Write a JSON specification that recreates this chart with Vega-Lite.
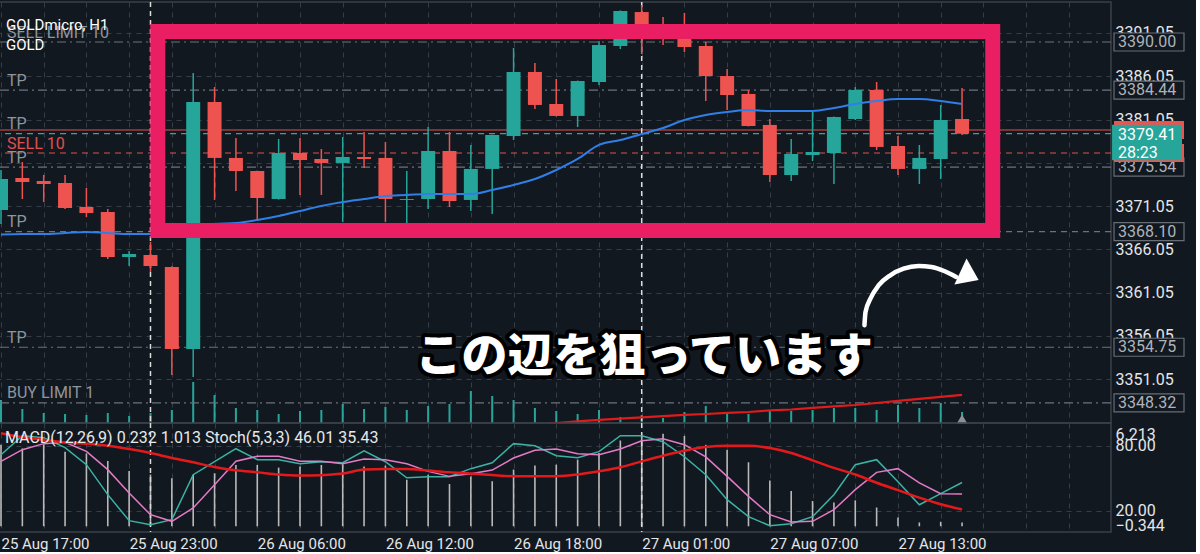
{
  "$schema": "https://vega.github.io/schema/vega-lite/v6.json",
  "background": "#121820",
  "padding": {"left": -7, "top": 0, "right": 0, "bottom": 0},
  "spacing": 0,
  "bounds": "flush",
  "config": {
    "font": "Roboto",
    "view": {"stroke": "#3a4048", "strokeWidth": 1.5},
    "axis": {"domain": false, "ticks": false, "labelFont": "Roboto", "labelColor": "#e4e6e8", "labelFontSize": 16, "gridColor": "#363d47", "gridDash": [5, 5], "gridWidth": 1, "labelOverlap": false, "labelFlush": false, "labelBound": false}
  },
  "datasets": {
    "bars": [
      {"i":0,"t":"25 Aug 17:00","o":3370.60,"h":3375.22,"l":3368.98,"c":3374.18,"v":2300,"ma":3367.77,"k":71.7,"d":65.6,"macd":4.90,"sig":5.599},
      {"i":1,"t":"25 Aug 18:00","o":3374.30,"h":3376.14,"l":3371.87,"c":3373.83,"v":1400,"ma":3367.83,"k":89.2,"d":76.3,"macd":4.68,"sig":5.361},
      {"i":2,"t":"25 Aug 19:00","o":3373.95,"h":3374.64,"l":3371.52,"c":3373.60,"v":1000,"ma":3367.83,"k":87.4,"d":81.9,"macd":4.92,"sig":5.200},
      {"i":3,"t":"25 Aug 20:00","o":3373.72,"h":3374.64,"l":3370.72,"c":3370.83,"v":900,"ma":3367.94,"k":78.2,"d":83.1,"macd":4.48,"sig":5.039},
      {"i":4,"t":"25 Aug 21:00","o":3370.95,"h":3373.14,"l":3369.79,"c":3370.25,"v":800,"ma":3368.06,"k":62.5,"d":74.8,"macd":4.38,"sig":4.961},
      {"i":5,"t":"25 Aug 22:00","o":3370.37,"h":3370.72,"l":3364.94,"c":3365.17,"v":1000,"ma":3367.94,"k":34.8,"d":57.9,"macd":3.93,"sig":4.842},
      {"i":6,"t":"25 Aug 23:00","o":3365.17,"h":3365.87,"l":3364.13,"c":3365.52,"v":700,"ma":3367.83,"k":10.8,"d":36.3,"macd":3.33,"sig":4.645},
      {"i":7,"t":"26 Aug 01:00","o":3365.40,"h":3366.91,"l":3363.44,"c":3364.13,"v":1000,"ma":3367.83,"k":7.1,"d":16.3,"macd":3.11,"sig":4.407},
      {"i":8,"t":"26 Aug 02:00","o":3364.02,"h":3364.10,"l":3351.55,"c":3354.55,"v":1300,"ma":3368.29,"k":11.7,"d":10.2,"macd":2.89,"sig":4.109},
      {"i":9,"t":"26 Aug 03:00","o":3354.55,"h":3386.42,"l":3351.32,"c":3383.07,"v":4100,"ma":3368.64,"k":53.2,"d":22.5,"macd":3.10,"sig":3.846},
      {"i":10,"t":"26 Aug 04:00","o":3383.07,"h":3384.80,"l":3371.76,"c":3376.61,"v":2800,"ma":3368.98,"k":65.2,"d":44.0,"macd":3.19,"sig":3.572},
      {"i":11,"t":"26 Aug 05:00","o":3376.61,"h":3378.92,"l":3372.80,"c":3375.10,"v":1500,"ma":3369.10,"k":77.2,"d":65.6,"macd":3.69,"sig":3.370},
      {"i":12,"t":"26 Aug 06:00","o":3375.10,"h":3375.15,"l":3369.56,"c":3371.99,"v":1300,"ma":3369.45,"k":67.1,"d":70.2,"macd":3.69,"sig":3.250},
      {"i":13,"t":"26 Aug 07:00","o":3371.87,"h":3378.80,"l":3371.80,"c":3377.18,"v":900,"ma":3369.91,"k":67.1,"d":70.2,"macd":3.53,"sig":3.113},
      {"i":14,"t":"26 Aug 08:00","o":3377.18,"h":3378.92,"l":3372.33,"c":3376.37,"v":1200,"ma":3370.49,"k":63.4,"d":65.6,"macd":3.59,"sig":3.054},
      {"i":15,"t":"26 Aug 09:00","o":3376.49,"h":3377.64,"l":3372.33,"c":3376.03,"v":1300,"ma":3371.06,"k":65.2,"d":65.6,"macd":3.69,"sig":3.072},
      {"i":16,"t":"26 Aug 10:00","o":3376.03,"h":3379.03,"l":3369.22,"c":3376.72,"v":1900,"ma":3371.52,"k":64.3,"d":63.4,"macd":3.73,"sig":3.173},
      {"i":17,"t":"26 Aug 11:00","o":3376.72,"h":3379.61,"l":3375.45,"c":3376.49,"v":1400,"ma":3371.87,"k":75.3,"d":67.7,"macd":3.59,"sig":3.411},
      {"i":18,"t":"26 Aug 12:00","o":3376.61,"h":3378.45,"l":3369.22,"c":3371.87,"v":1600,"ma":3372.22,"k":65.2,"d":67.1,"macd":3.65,"sig":3.453},
      {"i":19,"t":"26 Aug 13:00","o":3371.76,"h":3375.10,"l":3368.98,"c":3371.87,"v":1300,"ma":3372.33,"k":50.4,"d":63.4,"macd":2.80,"sig":3.453},
      {"i":20,"t":"26 Aug 14:00","o":3371.87,"h":3380.18,"l":3370.72,"c":3377.41,"v":1700,"ma":3372.45,"k":51.3,"d":56.3,"macd":3.10,"sig":3.352},
      {"i":21,"t":"26 Aug 15:00","o":3377.41,"h":3379.61,"l":3370.95,"c":3371.64,"v":1900,"ma":3372.45,"k":51.3,"d":51.7,"macd":2.54,"sig":3.250},
      {"i":22,"t":"26 Aug 16:00","o":3371.76,"h":3378.11,"l":3370.49,"c":3375.34,"v":3200,"ma":3372.45,"k":58.8,"d":54.2,"macd":2.99,"sig":3.173},
      {"i":23,"t":"26 Aug 17:00","o":3375.34,"h":3379.30,"l":3370.14,"c":3379.26,"v":2700,"ma":3372.91,"k":64.3,"d":57.5,"macd":2.71,"sig":3.083},
      {"i":24,"t":"26 Aug 18:00","o":3379.15,"h":3389.31,"l":3378.68,"c":3386.54,"v":2300,"ma":3373.49,"ma2":3345.54,"k":81.9,"d":68.6,"macd":3.41,"sig":3.012},
      {"i":25,"t":"26 Aug 19:00","o":3386.54,"h":3387.58,"l":3382.26,"c":3382.73,"v":1500,"ma":3374.18,"ma2":3345.77,"k":80.0,"d":75.7,"macd":3.65,"sig":3.012},
      {"i":26,"t":"26 Aug 20:00","o":3382.84,"h":3385.73,"l":3381.40,"c":3381.46,"v":1200,"ma":3375.22,"ma2":3346.00,"k":70.8,"d":76.9,"macd":3.71,"sig":3.012},
      {"i":27,"t":"26 Aug 21:00","o":3381.46,"h":3385.55,"l":3380.18,"c":3385.50,"v":900,"ma":3376.49,"ma2":3346.18,"k":68.9,"d":72.6,"macd":4.01,"sig":3.113},
      {"i":28,"t":"26 Aug 22:00","o":3385.38,"h":3390.12,"l":3385.04,"c":3389.65,"v":1300,"ma":3378.11,"ma2":3346.35,"k":74.5,"d":71.7,"macd":4.41,"sig":3.310},
      {"i":29,"t":"26 Aug 23:00","o":3389.54,"h":3393.65,"l":3389.19,"c":3393.58,"v":600,"ma":3378.68,"ma2":3346.50,"k":89.2,"d":76.9,"macd":5.16,"sig":3.548},
      {"i":30,"t":"27 Aug 01:00","o":3393.46,"h":3394.27,"l":3388.61,"c":3390.92,"v":800,"ma":3379.38,"ma2":3346.64,"k":89.2,"d":84.6,"macd":5.50,"sig":3.906},
      {"i":31,"t":"27 Aug 02:00","o":3391.39,"h":3392.89,"l":3389.65,"c":3391.04,"v":500,"ma":3380.07,"ma2":3346.79,"k":83.7,"d":86.5,"macd":5.56,"sig":4.246},
      {"i":32,"t":"27 Aug 03:00","o":3390.58,"h":3393.35,"l":3388.85,"c":3389.42,"v":1100,"ma":3380.99,"ma2":3346.93,"k":69.8,"d":80.9,"macd":5.44,"sig":4.544},
      {"i":33,"t":"27 Aug 04:00","o":3389.54,"h":3390.00,"l":3383.19,"c":3386.07,"v":1700,"ma":3381.57,"ma2":3347.04,"k":53.2,"d":69.6,"macd":4.90,"sig":4.764},
      {"i":34,"t":"27 Aug 05:00","o":3386.07,"h":3386.88,"l":3382.15,"c":3383.88,"v":1000,"ma":3381.92,"ma2":3347.16,"k":30.2,"d":51.7,"macd":4.60,"sig":4.842},
      {"i":35,"t":"27 Aug 06:00","o":3384.00,"h":3384.46,"l":3380.25,"c":3380.30,"v":900,"ma":3382.15,"ma2":3347.27,"k":14.5,"d":33.2,"macd":3.85,"sig":4.842},
      {"i":36,"t":"27 Aug 07:00","o":3380.42,"h":3381.11,"l":3373.83,"c":3374.64,"v":1200,"ma":3382.03,"ma2":3347.45,"k":6.2,"d":16.3,"macd":2.76,"sig":4.705},
      {"i":37,"t":"27 Aug 08:00","o":3374.64,"h":3378.80,"l":3373.95,"c":3377.07,"v":1200,"ma":3382.03,"ma2":3347.56,"k":8.0,"d":9.5,"macd":2.12,"sig":4.407},
      {"i":38,"t":"27 Aug 09:00","o":3376.95,"h":3381.92,"l":3376.26,"c":3377.30,"v":1300,"ma":3382.03,"ma2":3347.74,"k":14.5,"d":10.2,"macd":1.52,"sig":3.966},
      {"i":39,"t":"27 Aug 10:00","o":3377.18,"h":3381.40,"l":3373.60,"c":3381.34,"v":1500,"ma":3382.38,"ma2":3347.91,"k":34.8,"d":20.9,"macd":1.43,"sig":3.513},
      {"i":40,"t":"27 Aug 11:00","o":3381.11,"h":3384.80,"l":3380.99,"c":3384.46,"v":1500,"ma":3382.84,"ma2":3348.08,"k":62.5,"d":39.4,"macd":1.56,"sig":3.113},
      {"i":41,"t":"27 Aug 12:00","o":3384.46,"h":3385.38,"l":3377.53,"c":3377.88,"v":1300,"ma":3383.19,"ma2":3348.31,"k":67.1,"d":55.4,"macd":1.13,"sig":2.619},
      {"i":42,"t":"27 Aug 13:00","o":3377.99,"h":3379.15,"l":3374.64,"c":3375.34,"v":1800,"ma":3383.42,"ma2":3348.55,"k":46.8,"d":58.8,"macd":0.53,"sig":2.177},
      {"i":43,"t":"27 Aug 14:00","o":3375.34,"h":3378.11,"l":3373.60,"c":3376.61,"v":1500,"ma":3383.42,"ma2":3348.78,"k":25.5,"d":45.6,"macd":0.23,"sig":1.724},
      {"i":44,"t":"27 Aug 15:00","o":3376.49,"h":3382.73,"l":3374.18,"c":3380.99,"v":2000,"ma":3383.19,"ma2":3349.01,"k":35.7,"d":35.7,"macd":0.27,"sig":1.325},
      {"i":45,"t":"27 Aug 16:00","o":3381.11,"h":3384.69,"l":3379.26,"c":3379.41,"v":1100,"ma":3382.84,"ma2":3349.24,"k":46.01,"d":35.43,"macd":0.232,"sig":1.013}
    ],
    "levels": [
      {"label":"SELL LIMIT 10","price":3390.00,"kind":"order"},
      {"label":"TP","price":3384.44,"kind":"order"},
      {"label":"","price":3379.84,"kind":"ask"},
      {"label":"TP","price":3379.41,"kind":"bid","timer":"28:23"},
      {"label":"SELL 10","price":3377.18,"kind":"sell"},
      {"label":"TP","price":3375.54,"kind":"order"},
      {"label":"TP","price":3368.10,"kind":"order2"},
      {"label":"TP","price":3354.75,"kind":"order"},
      {"label":"BUY LIMIT 1","price":3348.32,"kind":"order"}
    ],
    "seps": [{"i":7},{"i":30}],
    "arc": [
      {"i":40.43,"p":3357.29},{"i":40.48,"p":3358.82},{"i":40.71,"p":3360.36},{"i":41.10,"p":3361.91},{"i":41.64,"p":3363.06},
      {"i":42.26,"p":3363.82},{"i":42.96,"p":3364.13},{"i":43.57,"p":3364.02},{"i":44.19,"p":3363.52},{"i":44.73,"p":3362.86}
    ]
  },
  "vconcat": [
    {
      "width": 1116,
      "height": 421,
      "layer": [
        {
          "data": {"name": "bars"},
          "layer": [
            {
              "mark": {"type": "bar", "width": 2, "color": "#26a69a", "clip": true},
              "encoding": {
                "x": {"field": "i", "type": "quantitative", "title": null, "scale": {"domain": [-0.0464, 51.74], "nice": false, "zero": false},
                      "axis": {"values": [0,2,4,6,8,10,12,14,16,18,20,22,24,26,28,30,32,34,36,38,40,42,44,46,48,50], "labels": false, "grid": true}},
                "y": {"field": "v", "type": "quantitative", "title": null, "scale": {"domain": [0, 42100], "nice": false, "zero": false}, "axis": null}
              }
            },
            {
              "data": {"values": [{}]},
              "mark": {"type": "point", "shape": "triangle-up", "size": 110, "filled": true, "color": "#8c9197", "opacity": 1},
              "encoding": {
                "x": {"datum": 45, "type": "quantitative", "title": null, "scale": {"domain": [-0.0464, 51.74], "nice": false, "zero": false}},
                "y": {"datum": 400, "type": "quantitative", "title": null, "scale": {"domain": [0, 42100], "nice": false, "zero": false}}
              }
            }
          ]
        },
        {
          "layer": [
            {
              "data": {"name": "levels"},
              "mark": {"type": "rule", "strokeWidth": 1.2},
              "encoding": {
                "y": {"field": "price", "type": "quantitative", "title": null, "scale": {"domain": [3346.0, 3394.62], "nice": false, "zero": false}},
                "stroke": {"condition": [{"test": "datum.kind == 'ask' || datum.kind == 'sell'", "value": "#e0504c"}, {"test": "datum.kind == 'bid'", "value": "#4d9a93"}], "value": "#6c727b"},
                "strokeDash": {"condition": [{"test": "datum.kind == 'ask'", "value": [1, 0]}, {"test": "datum.kind == 'order'", "value": [9, 4, 2, 4]}], "value": [6, 5]}
              }
            },
            {
              "data": {"name": "seps"},
              "mark": {"type": "rule", "color": "#dcdcdc", "strokeDash": [5, 4], "strokeWidth": 1.5},
              "encoding": {
                "x": {"field": "i", "type": "quantitative", "title": null, "scale": {"domain": [-0.0464, 51.74], "nice": false, "zero": false}}
              }
            },
            {
              "data": {"name": "bars"},
              "mark": {"type": "line", "color": "#e01b1b", "strokeWidth": 2.2, "clip": true},
              "encoding": {
                "x": {"field": "i", "type": "quantitative", "title": null, "scale": {"domain": [-0.0464, 51.74], "nice": false, "zero": false}},
                "y": {"field": "ma2", "type": "quantitative", "title": null, "scale": {"domain": [3346.0, 3394.62], "nice": false, "zero": false}}
              }
            },
            {
              "data": {"name": "bars"},
              "mark": {"type": "rule", "strokeWidth": 1.5, "clip": true},
              "encoding": {
                "x": {"field": "i", "type": "quantitative", "title": null, "scale": {"domain": [-0.0464, 51.74], "nice": false, "zero": false}},
                "y": {"field": "l", "type": "quantitative", "title": null, "scale": {"domain": [3346.0, 3394.62], "nice": false, "zero": false}},
                "y2": {"field": "h"},
                "color": {"condition": {"test": "datum.c >= datum.o", "value": "#26a69a"}, "value": "#ef5350"}
              }
            },
            {
              "data": {"name": "bars"},
              "mark": {"type": "bar", "width": 14, "clip": true},
              "encoding": {
                "x": {"field": "i", "type": "quantitative", "title": null, "scale": {"domain": [-0.0464, 51.74], "nice": false, "zero": false}},
                "y": {"field": "o", "type": "quantitative", "title": null, "scale": {"domain": [3346.0, 3394.62], "nice": false, "zero": false},
                      "axis": {"orient": "right", "values": [3351.05, 3356.05, 3361.05, 3366.05, 3371.05, 3376.05, 3381.05, 3386.05, 3391.05], "format": ".2f", "grid": true, "labelPadding": 4}},
                "y2": {"field": "c"},
                "color": {"condition": {"test": "datum.c >= datum.o", "value": "#26a69a"}, "value": "#ef5350"}
              }
            },
            {
              "data": {"name": "bars"},
              "mark": {"type": "line", "color": "#2f7fe6", "strokeWidth": 2, "interpolate": "monotone", "clip": true},
              "encoding": {
                "x": {"field": "i", "type": "quantitative", "title": null, "scale": {"domain": [-0.0464, 51.74], "nice": false, "zero": false}},
                "y": {"field": "ma", "type": "quantitative", "title": null, "scale": {"domain": [3346.0, 3394.62], "nice": false, "zero": false}}
              }
            },
            {
              "data": {"name": "levels"},
              "transform": [{"filter": "datum.label != '' && datum.kind != 'sell'"}],
              "mark": {"type": "text", "align": "left", "baseline": "alphabetic", "dx": 6, "dy": -4.5, "fontSize": 16, "color": "#8f959c"},
              "encoding": {
                "x": {"datum": 0, "type": "quantitative", "title": null, "scale": {"domain": [-0.0464, 51.74], "nice": false, "zero": false}},
                "y": {"field": "price", "type": "quantitative", "title": null, "scale": {"domain": [3346.0, 3394.62], "nice": false, "zero": false}},
                "text": {"field": "label"}
              }
            },
            {
              "data": {"name": "levels"},
              "transform": [{"filter": "datum.kind == 'sell'"}],
              "mark": {"type": "text", "align": "left", "baseline": "alphabetic", "dx": 6, "dy": -4.5, "fontSize": 16, "color": "#e0504c"},
              "encoding": {
                "x": {"datum": 0, "type": "quantitative", "title": null, "scale": {"domain": [-0.0464, 51.74], "nice": false, "zero": false}},
                "y": {"field": "price", "type": "quantitative", "title": null, "scale": {"domain": [3346.0, 3394.62], "nice": false, "zero": false}},
                "text": {"field": "label"}
              }
            },
            {
              "data": {"values": [{"name": "GOLDmicro, H1", "p": 3391.39}, {"name": "GOLD", "p": 3389.08}]},
              "mark": {"type": "text", "align": "left", "baseline": "alphabetic", "dx": 5, "fontSize": 15, "color": "#ffffff"},
              "encoding": {
                "x": {"datum": 0, "type": "quantitative", "title": null, "scale": {"domain": [-0.0464, 51.74], "nice": false, "zero": false}},
                "y": {"field": "p", "type": "quantitative", "title": null, "scale": {"domain": [3346.0, 3394.62], "nice": false, "zero": false}},
                "text": {"field": "name"}
              }
            },
            {
              "data": {"values": [{"i": 7.341, "i2": 46.436, "p": 3391.21, "p2": 3368.23}]},
              "mark": {"type": "rect", "fill": "#000000", "fillOpacity": 0, "stroke": "#e91e63", "strokeWidth": 15},
              "encoding": {
                "x": {"field": "i", "type": "quantitative", "title": null, "scale": {"domain": [-0.0464, 51.74], "nice": false, "zero": false}},
                "x2": {"field": "i2"},
                "y": {"field": "p", "type": "quantitative", "title": null, "scale": {"domain": [3346.0, 3394.62], "nice": false, "zero": false}},
                "y2": {"field": "p2"}
              }
            },
            {
              "data": {"values": [{"i": 30.12, "p": 3353.63, "label": "この辺を狙っています"}]},
              "encoding": {
                "x": {"field": "i", "type": "quantitative", "title": null, "scale": {"domain": [-0.0464, 51.74], "nice": false, "zero": false}},
                "y": {"field": "p", "type": "quantitative", "title": null, "scale": {"domain": [3346.0, 3394.62], "nice": false, "zero": false}},
                "text": {"field": "label"}
              },
              "layer": [
                {"mark": {"type": "text", "font": "Noto Sans CJK JP", "fontWeight": 900, "fontSize": 46, "align": "center", "baseline": "middle", "fill": "#000000", "stroke": "#000000", "strokeWidth": 8, "strokeJoin": "round"}},
                {"mark": {"type": "text", "font": "Noto Sans CJK JP", "fontWeight": 900, "fontSize": 46, "align": "center", "baseline": "middle", "fill": "#ffffff"}}
              ]
            },
            {
              "data": {"name": "arc"},
              "mark": {"type": "line", "color": "#ffffff", "strokeWidth": 4.5, "strokeCap": "round", "interpolate": "monotone"},
              "encoding": {
                "x": {"field": "i", "type": "quantitative", "title": null, "scale": {"domain": [-0.0464, 51.74], "nice": false, "zero": false}},
                "y": {"field": "p", "type": "quantitative", "title": null, "scale": {"domain": [3346.0, 3394.62], "nice": false, "zero": false}}
              }
            },
            {
              "data": {"values": [{"i": 45.29, "p": 3363.08}]},
              "mark": {"type": "point", "shape": "M-0.6,-1L0.8,0L-0.6,1Z", "size": 818, "angle": 25, "filled": true, "fill": "#ffffff", "opacity": 1, "strokeWidth": 0},
              "encoding": {
                "x": {"field": "i", "type": "quantitative", "title": null, "scale": {"domain": [-0.0464, 51.74], "nice": false, "zero": false}},
                "y": {"field": "p", "type": "quantitative", "title": null, "scale": {"domain": [3346.0, 3394.62], "nice": false, "zero": false}}
              }
            },
            {
              "data": {"name": "levels"},
              "transform": [{"filter": "datum.kind == 'order' || datum.kind == 'order2'"}],
              "layer": [
                {
                  "mark": {"type": "point", "shape": "M0.086,-0.257H2.086V0.257H0.086Z", "size": 4900, "fill": "#121820", "stroke": "#676d75", "strokeWidth": 1.2, "opacity": 1, "fillOpacity": 1},
                  "encoding": {
                    "x": {"value": "width"},
                    "y": {"field": "price", "type": "quantitative", "title": null, "scale": {"domain": [3346.0, 3394.62], "nice": false, "zero": false}}
                  }
                },
                {
                  "mark": {"type": "text", "align": "left", "baseline": "middle", "dx": 7, "fontSize": 16, "color": "#aeb3b9"},
                  "encoding": {
                    "x": {"value": "width"},
                    "y": {"field": "price", "type": "quantitative", "title": null, "scale": {"domain": [3346.0, 3394.62], "nice": false, "zero": false}},
                    "text": {"field": "price", "type": "quantitative", "format": ".2f"}
                  }
                }
              ]
            },
            {
              "data": {"name": "levels"},
              "transform": [{"filter": "datum.kind == 'ask' || datum.kind == 'sell'"}],
              "mark": {"type": "point", "shape": "M0.086,-0.257H2.086V0.257H0.086Z", "size": 4900, "fill": "#ef5350", "strokeWidth": 0, "opacity": 1, "fillOpacity": 1},
              "encoding": {
                "x": {"value": "width"},
                "y": {"field": "price", "type": "quantitative", "title": null, "scale": {"domain": [3346.0, 3394.62], "nice": false, "zero": false}}
              }
            },
            {
              "data": {"name": "levels"},
              "transform": [{"filter": "datum.kind == 'bid'"}],
              "layer": [
                {
                  "mark": {"type": "point", "shape": "M0.03,-0.257H2.03V0.76H0.03Z", "size": 4900, "fill": "#26a69a", "strokeWidth": 0, "opacity": 1, "fillOpacity": 1},
                  "encoding": {
                    "x": {"value": "width"},
                    "y": {"field": "price", "type": "quantitative", "title": null, "scale": {"domain": [3346.0, 3394.62], "nice": false, "zero": false}}
                  }
                },
                {
                  "mark": {"type": "text", "align": "left", "baseline": "alphabetic", "dx": 7, "dy": 6, "fontSize": 16, "color": "#ffffff"},
                  "encoding": {
                    "x": {"value": "width"},
                    "y": {"field": "price", "type": "quantitative", "title": null, "scale": {"domain": [3346.0, 3394.62], "nice": false, "zero": false}},
                    "text": {"field": "price", "type": "quantitative", "format": ".2f"}
                  }
                },
                {
                  "mark": {"type": "text", "align": "left", "baseline": "alphabetic", "dx": 7, "dy": 24.3, "fontSize": 16, "color": "#ffffff"},
                  "encoding": {
                    "x": {"value": "width"},
                    "y": {"field": "price", "type": "quantitative", "title": null, "scale": {"domain": [3346.0, 3394.62], "nice": false, "zero": false}},
                    "text": {"field": "timer"}
                  }
                }
              ]
            },
            {
              "data": {"values": [{"p": 3370}]},
              "mark": {"type": "rule", "strokeOpacity": 0},
              "encoding": {
                "x": {"value": "width"},
                "x2": {"value": {"expr": "width + 84"}},
                "y": {"field": "p", "type": "quantitative", "title": null, "scale": {"domain": [3346.0, 3394.62], "nice": false, "zero": false}}
              }
            }
          ]
        }
      ],
      "resolve": {"scale": {"y": "independent"}}
    },
    {
      "width": 1116,
      "height": 109,
      "layer": [
        {
          "data": {"name": "bars"},
          "mark": {"type": "bar", "width": 1.6, "color": "#b9b9b9", "clip": true},
          "encoding": {
            "x": {"field": "i", "type": "quantitative", "title": null, "scale": {"domain": [-0.0464, 51.74], "nice": false, "zero": false},
                  "axis": {"values": [0,2,4,6,8,10,12,14,16,18,20,22,24,26,28,30,32,34,36,38,40,42,44,46,48,50], "grid": true, "labelAlign": "left", "labelBaseline": "top", "labelPadding": 4, "labelFontSize": 15,
                           "labelExpr": "datum.value % 6 == 0 && datum.value <= 42 ? ['25 Aug 17:00','25 Aug 23:00','26 Aug 06:00','26 Aug 12:00','26 Aug 18:00','27 Aug 01:00','27 Aug 07:00','27 Aug 13:00'][datum.value / 6] : ''"}},
            "y": {"field": "macd", "type": "quantitative", "title": null, "scale": {"domain": [-0.344, 6.213], "nice": false, "zero": false},
                  "axis": {"orient": "right", "values": [6.213, -0.344], "format": ".3f", "grid": false, "labelPadding": 4, "labelBaseline": "alphabetic",
                           "labelOffset": {"condition": {"test": "datum.value > 3", "value": 16}, "value": -2}}}
          }
        },
        {
          "data": {"name": "seps"},
          "mark": {"type": "rule", "color": "#dcdcdc", "strokeDash": [5, 4], "strokeWidth": 1.5},
          "encoding": {
            "x": {"field": "i", "type": "quantitative", "title": null, "scale": {"domain": [-0.0464, 51.74], "nice": false, "zero": false}}
          }
        },
        {
          "data": {"name": "bars"},
          "layer": [
            {
              "mark": {"type": "line", "color": "#3ab3a5", "strokeWidth": 1.5, "clip": true},
              "encoding": {
                "x": {"field": "i", "type": "quantitative", "title": null, "scale": {"domain": [-0.0464, 51.74], "nice": false, "zero": false}},
                "y": {"field": "k", "type": "quantitative", "title": null, "scale": {"domain": [0.34, 100.95], "nice": false, "zero": false},
                      "axis": {"orient": "right", "values": [20, 80], "format": ".2f", "grid": true, "labelPadding": 4}}
              }
            },
            {
              "mark": {"type": "line", "color": "#e57ac6", "strokeWidth": 1.5, "clip": true},
              "encoding": {
                "x": {"field": "i", "type": "quantitative", "title": null, "scale": {"domain": [-0.0464, 51.74], "nice": false, "zero": false}},
                "y": {"field": "d", "type": "quantitative", "title": null, "scale": {"domain": [0.34, 100.95], "nice": false, "zero": false}}
              }
            }
          ]
        },
        {
          "data": {"name": "bars"},
          "mark": {"type": "line", "color": "#e3191b", "strokeWidth": 2.5, "interpolate": "monotone", "clip": true},
          "encoding": {
            "x": {"field": "i", "type": "quantitative", "title": null, "scale": {"domain": [-0.0464, 51.74], "nice": false, "zero": false}},
            "y": {"field": "sig", "type": "quantitative", "title": null, "scale": {"domain": [-0.344, 6.213], "nice": false, "zero": false}, "axis": null}
          }
        },
        {
          "data": {"values": [{"name": "MACD(12,26,9) 0.232 1.013 Stoch(5,3,3) 46.01 35.43", "v": 82.8}]},
          "mark": {"type": "text", "align": "left", "baseline": "alphabetic", "dx": 4, "fontSize": 16, "color": "#e8e8e8"},
          "encoding": {
            "x": {"datum": 0, "type": "quantitative", "title": null, "scale": {"domain": [-0.0464, 51.74], "nice": false, "zero": false}},
            "y": {"field": "v", "type": "quantitative", "title": null, "scale": {"domain": [0.34, 100.95], "nice": false, "zero": false}, "axis": null},
            "text": {"field": "name"}
          }
        }
      ],
      "resolve": {"scale": {"y": "independent"}}
    }
  ]
}
